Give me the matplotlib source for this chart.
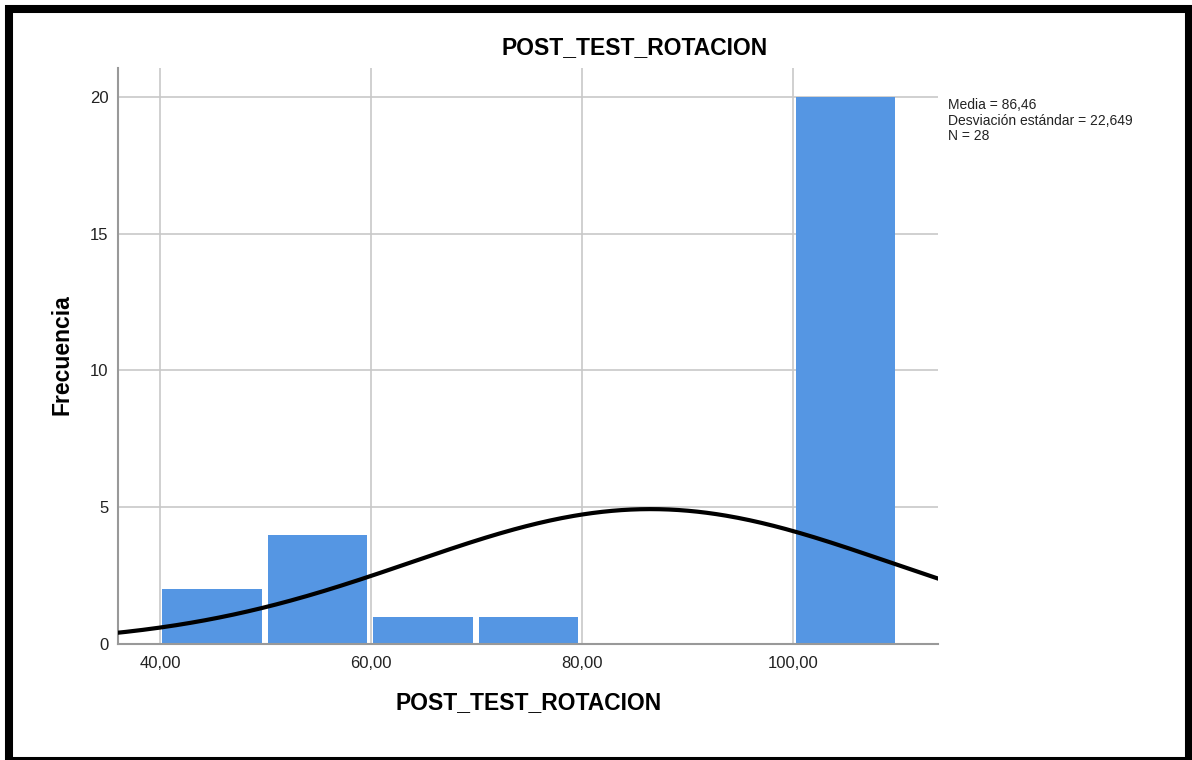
import numpy as np
import matplotlib
matplotlib.use('Agg')
from matplotlib import pyplot as plt
from matplotlib.patches import Rectangle

plt.rcParams['font.family'] = ['Liberation Sans', 'DejaVu Sans']

# Datos del histograma
bordes = [40, 50, 60, 70, 80, 90, 100, 110]
frecuencias = [2, 4, 1, 1, 0, 0, 20]
media = 86.46
desv = 22.649
n = 28
x_ticks = [40, 60, 80, 100]
x_labels = ['40,00', '60,00', '80,00', '100,00']
y_ticks = [0, 5, 10, 15, 20]

W, H = 1192, 760
fig = plt.figure(figsize=(W / 100, H / 100), dpi=100)
ax = fig.add_axes([118 / W, 1 - 644 / H, (938 - 118) / W, (644 - 68) / H])

# Barras (con un pequeño hueco entre ellas)
izq = np.array(bordes[:-1]) + 0.2
anchos = np.diff(bordes) - 0.6
ax.bar(izq, frecuencias, width=anchos, align='edge',
       color='#5596e3', linewidth=0, zorder=2)

# Curva normal
xs = np.linspace(30, 120, 400)
ys = n * 10 / (desv * np.sqrt(2 * np.pi)) * np.exp(-0.5 * ((xs - media) / desv) ** 2)
ax.plot(xs, ys, color='black', linewidth=3, zorder=3)

ax.set_xlim(36.0, 113.7)
ax.set_ylim(0, 21.06)
ax.set_xticks(x_ticks)
ax.set_xticklabels(x_labels)
ax.set_yticks(y_ticks)
ax.tick_params(length=0, labelsize=12, colors='#222222')
ax.tick_params(axis='x', pad=9)
ax.tick_params(axis='y', pad=7)
ax.grid(True, color='#c8c8c8', linewidth=1.2, zorder=1)
ax.set_axisbelow(True)
for s in ['top', 'right']:
    ax.spines[s].set_visible(False)
for s in ['left', 'bottom']:
    ax.spines[s].set_color('#999999')
    ax.spines[s].set_linewidth(1.5)

# Titulo y etiquetas
fig.text(635 / W, 1 - 48 / H, 'POST_TEST_ROTACION', fontsize=16.5, fontweight='bold',
         ha='center', va='center')
fig.text(529 / W, 1 - 703 / H, 'POST_TEST_ROTACION', fontsize=16.5, fontweight='bold',
         ha='center', va='center')
fig.text(62 / W, 1 - 355 / H, 'Frecuencia', fontsize=16.5, fontweight='bold',
         ha='center', va='center', rotation=90)

# Estadisticos
fig.text(948 / W, 1 - 98 / H, 'Media = 86,46\nDesviación estándar = 22,649\nN = 28',
         fontsize=10, va='top', ha='left', linespacing=1.15, color='#222222')

# Marco negro
fig.patches.append(Rectangle((9 / W, -1 / H), 1180 / W, 752 / H, transform=fig.transFigure,
                             fill=False, edgecolor='black', linewidth=5.8))

fig.savefig('out.png', dpi=100)
